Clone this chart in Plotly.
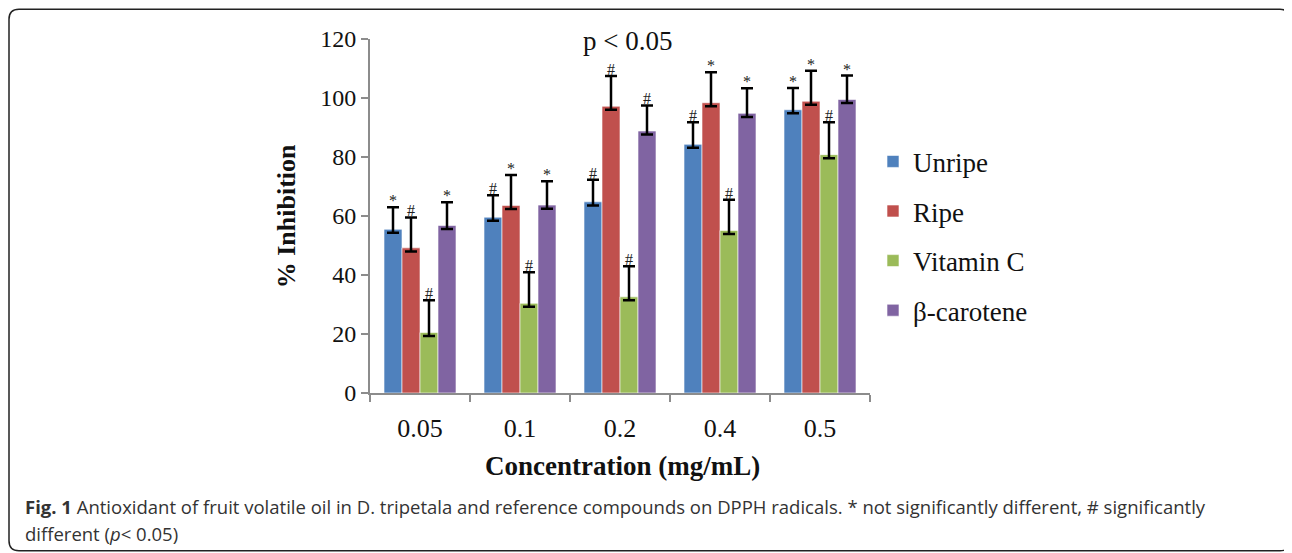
import plotly.graph_objects as go

# ---------------- data ----------------
concentrations = ["0.05", "0.1", "0.2", "0.4", "0.5"]
series_names = ["Unripe", "Ripe", "Vitamin C", "β-carotene"]
unripe = [55.5, 59.6, 64.8, 84.3, 96.0]
ripe = [49.2, 63.6, 97.2, 98.4, 98.9]
vitamin_c = [20.5, 30.4, 32.6, 55.1, 80.8]
beta_carotene = [56.8, 63.7, 88.8, 94.8, 99.5]
err_unripe = [7.5, 7.4, 7.5, 7.5, 7.4]
err_ripe = [10.3, 10.3, 10.3, 10.3, 10.3]
err_vitamin_c = [10.9, 10.5, 10.4, 10.4, 11.0]
err_beta_carotene = [7.9, 8.1, 8.7, 8.5, 8.1]
sig_unripe = ["*", "#", "#", "#", "*"]
sig_ripe = ["#", "*", "#", "*", "*"]
sig_vitamin_c = ["#", "#", "#", "#", "#"]
sig_beta_carotene = ["*", "*", "#", "*", "*"]

colors = ["#4F81BD", "#C0504D", "#9BBB59", "#8064A2"]
values = [unripe, ripe, vitamin_c, beta_carotene]
errors = [err_unripe, err_ripe, err_vitamin_c, err_beta_carotene]
sigs = [sig_unripe, sig_ripe, sig_vitamin_c, sig_beta_carotene]

SERIF = "Liberation Serif, Times New Roman, serif"
SANS = "Open Sans, Noto Sans, sans-serif"

# page body has an 8px margin: work in screen pixels and shift
OFF = 8
W, H = 1292 - OFF, 553 - OFF
L, R, T, B = 370 - OFF, 870 - OFF, 38.5 - OFF, 393 - OFF


def px(x):
    return (x - OFF - L) / (R - L)


def py(y):
    return (B - (y - OFF)) / (B - T)


fig = go.Figure()
for i, name in enumerate(series_names):
    fig.add_trace(go.Bar(
        name=name,
        x=concentrations,
        y=values[i],
        marker=dict(color=colors[i], line=dict(color="rgba(255,255,255,0.6)", width=1)),
        error_y=dict(type="data", symmetric=False, array=errors[i],
                     arrayminus=[1.2] * len(values[i]),
                     color="black", thickness=2.5, width=6),
        legendgroup=name,
    ))

bargap = 0.28
nser = len(series_names)
bw = (1 - bargap) / nser
annotations = []
for i in range(nser):
    off = -(1 - bargap) / 2 + bw * (i + 0.5)
    for j in range(len(concentrations)):
        annotations.append(dict(
            x=j + off, y=values[i][j] + errors[i][j], xref="x", yref="y",
            text=sigs[i][j], showarrow=False, yanchor="bottom", yshift=-4,
            font=dict(family=SERIF, size=16, color="#222"),
        ))

# p < 0.05 label
annotations.append(dict(x=px(627), y=py(41), xref="paper", yref="paper",
                        text="p < 0.05", showarrow=False, xanchor="center", yanchor="middle",
                        font=dict(family=SERIF, size=27, color="#111")))
# axis titles
annotations.append(dict(x=px(286), y=py(216), xref="paper", yref="paper",
                        text="<b>% Inhibition</b>", textangle=-90, showarrow=False,
                        xanchor="center", yanchor="middle",
                        font=dict(family=SERIF, size=26, color="#111")))
annotations.append(dict(x=px(622), y=py(466), xref="paper", yref="paper",
                        text="<b>Concentration (mg/mL)</b>", showarrow=False,
                        xanchor="center", yanchor="middle",
                        font=dict(family=SERIF, size=27, color="#111")))
# caption
annotations.append(dict(x=px(23), y=py(507), xref="paper", yref="paper",
                        text="<b>Fig. 1</b> Antioxidant of fruit volatile oil in D. tripetala and reference compounds on DPPH radicals. * not significantly different, # significantly",
                        showarrow=False, xanchor="left", yanchor="middle",
                        font=dict(family=SANS, size=18.5, color="#333")))
annotations.append(dict(x=px(23), y=py(534), xref="paper", yref="paper",
                        text="different (<i>p</i>< 0.05)",
                        showarrow=False, xanchor="left", yanchor="middle",
                        font=dict(family=SANS, size=18.5, color="#333")))

# rounded border (screen pixel coordinates)
x0, x1, y0, y1, r = 9, 1290, 8.8, 551, 10
path = (f"M{px(x0 + r)},{py(y0)} L{px(x1 - r)},{py(y0)} Q{px(x1)},{py(y0)} {px(x1)},{py(y0 + r)} "
        f"L{px(x1)},{py(y1 - r)} Q{px(x1)},{py(y1)} {px(x1 - r)},{py(y1)} "
        f"L{px(x0 + r)},{py(y1)} Q{px(x0)},{py(y1)} {px(x0)},{py(y1 - r)} "
        f"L{px(x0)},{py(y0 + r)} Q{px(x0)},{py(y0)} {px(x0 + r)},{py(y0)} Z")

fig.update_layout(
    width=W, height=H,
    margin=dict(l=L, r=W - R, t=T, b=H - B),
    paper_bgcolor="white", plot_bgcolor="white",
    barmode="group", bargap=bargap, bargroupgap=0,
    showlegend=True,
    legend=dict(x=px(873), y=py(137), xanchor="left", yanchor="top",
                font=dict(family=SERIF, size=27, color="#111"),
                tracegroupgap=11.5, bgcolor="rgba(0,0,0,0)"),
    annotations=annotations,
    shapes=[dict(type="path", path=path, xref="paper", yref="paper",
                 line=dict(color="#222", width=1.5), layer="above")],
    xaxis=dict(type="category", showline=True, linecolor="#8c8c8c", linewidth=2,
               ticks="outside", tickson="boundaries", ticklen=7, tickcolor="#8c8c8c",
               tickwidth=2, showgrid=False, zeroline=False, ticklabelstandoff=11,
               tickfont=dict(family=SERIF, size=26, color="#111")),
    yaxis=dict(range=[0, 120], dtick=20, showline=True, linecolor="#8c8c8c", linewidth=2,
               ticks="outside", ticklen=7, tickcolor="#8c8c8c", tickwidth=2,
               showgrid=False, zeroline=False,
               tickfont=dict(family=SERIF, size=24, color="#111")),
)

fig.write_html("out.html")
